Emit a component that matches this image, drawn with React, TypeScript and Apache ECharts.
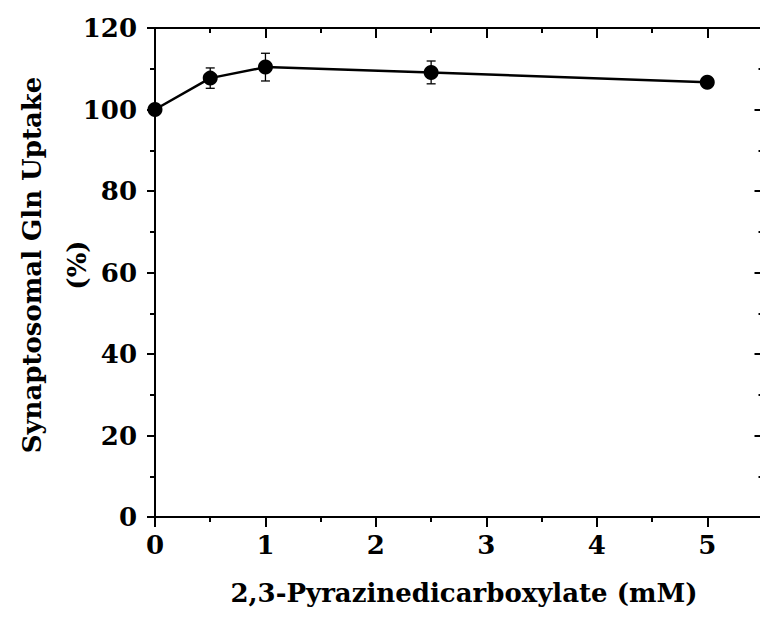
import React, { useEffect, useRef } from "react";
import * as echarts from "echarts";

// Pyrazinedicarboxylate concentration (mM)
const doses = [0, 0.5, 1, 2.5, 5];
// Synaptosomal Gln uptake (% of control)
const uptake = [100, 107.7, 110.4, 109.1, 106.7];
// Standard error of the mean (%)
const sem = [0, 2.5, 3.4, 2.8, 0.6];

const xTickValues = [0, 1, 2, 3, 4, 5];
const xMinorValues = [0.5, 1.5, 2.5, 3.5, 4.5];

const FONT = "'DejaVu Serif', 'Liberation Serif', serif";
const INK = "#000";

export default function App() {
  const ref = useRef<HTMLDivElement>(null);

  useEffect(() => {
    document.body.style.margin = "0";
    document.body.style.overflow = "hidden";
    if (!ref.current) return;
    const chart = echarts.init(ref.current, null, { renderer: "svg" });

    const points = doses.map((d, i) => [d, uptake[i]]);
    const bars = doses.map((d, i) => [d, uptake[i], sem[i]]);

    const axisLine = { show: true, onZero: false, lineStyle: { color: INK, width: 2 } };
    const baseX = {
      type: "value" as const,
      min: 0,
      max: 5.5,
      interval: 1,
      splitLine: { show: false },
      axisLine,
    };

    chart.setOption({
      animation: false,
      backgroundColor: "#fff",
      grid: { left: 155, top: 28, width: 607.5, height: 489, containLabel: false },
      xAxis: [
        {
          ...baseX,
          position: "bottom",
          axisTick: { show: true, inside: false, length: 10, lineStyle: { color: INK, width: 2 }, customValues: xTickValues },
          axisLabel: {
            show: true,
            customValues: xTickValues,
            margin: 15,
            color: INK,
            fontFamily: FONT,
            fontWeight: "bold",
            fontSize: 26,
          },
        },
        {
          ...baseX,
          position: "bottom",
          axisLine: { show: false, onZero: false },
          axisTick: { show: true, inside: false, length: 5, lineStyle: { color: INK, width: 2 }, customValues: xMinorValues },
          axisLabel: { show: false },
        },
        {
          ...baseX,
          position: "top",
          axisTick: { show: true, inside: true, length: 10, lineStyle: { color: INK, width: 2 }, customValues: xTickValues },
          axisLabel: { show: false },
        },
        {
          ...baseX,
          position: "top",
          axisLine: { show: false, onZero: false },
          axisTick: { show: true, inside: true, length: 5, lineStyle: { color: INK, width: 2 }, customValues: xMinorValues },
          axisLabel: { show: false },
        },
      ],
      yAxis: [
        {
          type: "value",
          position: "left",
          min: 0,
          max: 120,
          interval: 20,
          splitLine: { show: false },
          axisLine,
          axisTick: { show: true, inside: false, length: 8, lineStyle: { color: INK, width: 2 } },
          minorTick: { show: true, splitNumber: 2, length: 5, lineStyle: { color: INK, width: 2 } },
          minorSplitLine: { show: false },
          axisLabel: {
            margin: 18,
            color: INK,
            fontFamily: FONT,
            fontWeight: "bold",
            fontSize: 26,
          },
        },
        {
          // right-hand frame: only its inward ticks fall inside the page
          type: "value",
          position: "right",
          min: 0,
          max: 120,
          interval: 20,
          splitLine: { show: false },
          axisLine: { show: false, onZero: false },
          axisTick: { show: true, inside: true, length: 8, lineStyle: { color: INK, width: 2 } },
          minorTick: { show: true, splitNumber: 2, length: 4, lineStyle: { color: INK, width: 2 } },
          minorSplitLine: { show: false },
          axisLabel: { show: false },
        },
      ],
      graphic: [
        {
          type: "text",
          x: 32,
          y: 265,
          rotation: Math.PI / 2,
          style: {
            text: "Synaptosomal Gln Uptake",
            fill: INK,
            font: `bold 26px ${FONT}`,
            align: "center",
            verticalAlign: "middle",
          },
        },
        {
          type: "text",
          x: 77,
          y: 265,
          rotation: Math.PI / 2,
          style: {
            text: "(%)",
            fill: INK,
            font: `bold 26px ${FONT}`,
            align: "center",
            verticalAlign: "middle",
          },
        },
        {
          type: "text",
          x: 464,
          y: 593,
          style: {
            text: "2,3-Pyrazinedicarboxylate (mM)",
            fill: INK,
            font: `bold 26px ${FONT}`,
            align: "center",
            verticalAlign: "middle",
          },
        },
      ],
      series: [
        {
          type: "custom",
          xAxisIndex: 0,
          yAxisIndex: 0,
          z: 1,
          clip: false,
          data: bars,
          renderItem: (_params: any, api: any) => {
            const x = api.value(0);
            const y = api.value(1);
            const e = api.value(2);
            const hi = api.coord([x, y + e]);
            const lo = api.coord([x, y - e]);
            const cap = 4.5;
            const style = { stroke: INK, lineWidth: 1.3 };
            return {
              type: "group",
              children: [
                { type: "line", shape: { x1: hi[0], y1: hi[1], x2: lo[0], y2: lo[1] }, style },
                { type: "line", shape: { x1: hi[0] - cap, y1: hi[1], x2: hi[0] + cap, y2: hi[1] }, style },
                { type: "line", shape: { x1: lo[0] - cap, y1: lo[1], x2: lo[0] + cap, y2: lo[1] }, style },
              ],
            };
          },
        },
        {
          type: "line",
          xAxisIndex: 0,
          yAxisIndex: 0,
          z: 3,
          clip: false,
          data: points,
          symbol: "circle",
          symbolSize: 15,
          itemStyle: { color: INK },
          lineStyle: { color: INK, width: 2.5 },
        },
      ],
    });

    return () => chart.dispose();
  }, []);

  // The plot frame runs a few pixels past the right edge; the outer box crops it.
  return (
    <div style={{ width: 760, height: 619, overflow: "hidden", position: "relative" }}>
      <div ref={ref} style={{ width: 775, height: 619 }} />
    </div>
  );
}
